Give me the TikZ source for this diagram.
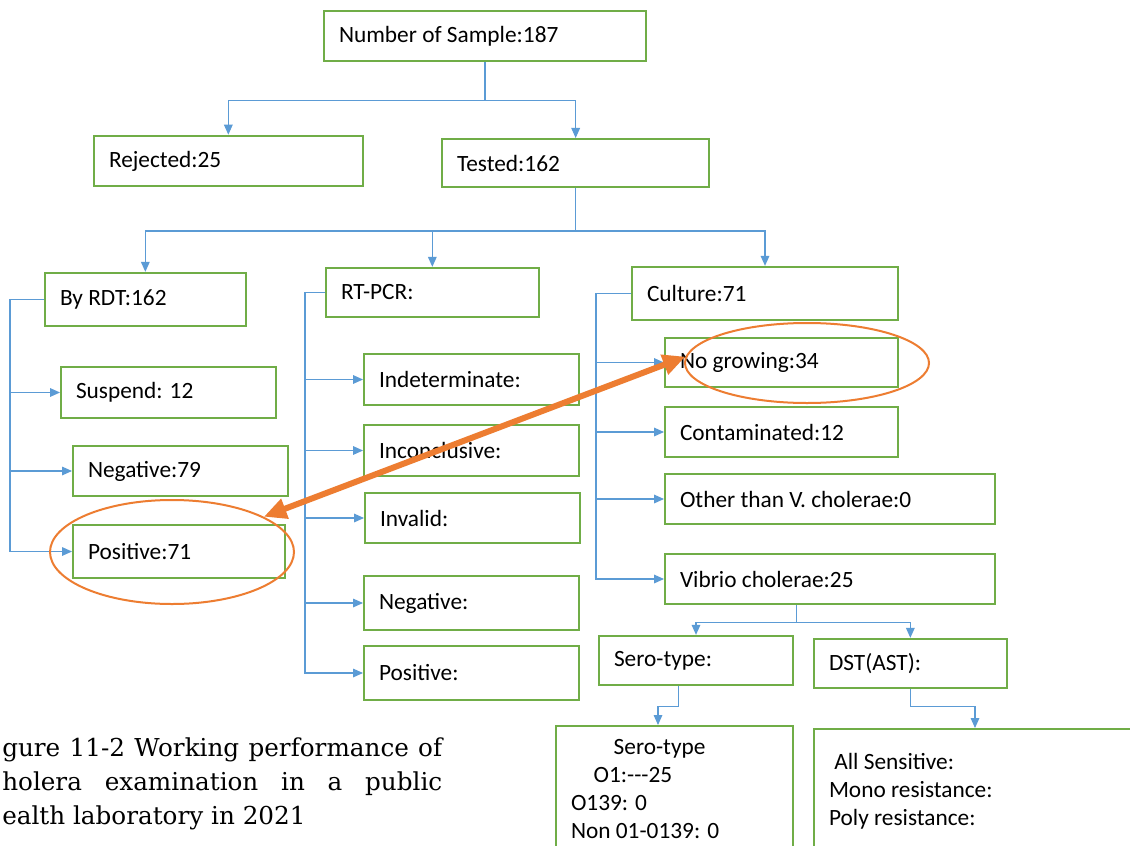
\documentclass[tikz,border=0pt]{standalone}
\usepackage{fontspec}
\newfontfamily\boxfont{Carlito}
\newfontfamily\capfont{DejaVu Serif}
\usetikzlibrary{arrows.meta,calc,shapes.geometric}
\definecolor{boxgreen}{HTML}{70AD47}
\definecolor{linkblue}{HTML}{5B9BD5}
\definecolor{markorange}{HTML}{ED7D31}
\tikzset{box/.style={draw=boxgreen,line width=1.5pt,fill=white,anchor=west,text width=#1,minimum height=38pt,inner xsep=11.25pt,align=flush left,font=\boxfont\fontsize{17.5}{21}\selectfont},
         line/.style={draw=linkblue,line width=0.8pt,-{Triangle[length=7.5pt,width=6.5pt]}},
         ring/.style={draw=markorange,line width=1.5pt,ellipse,inner sep=0pt}
}
\tikzstyle{hilite} = [draw=markorange,line width=4.5pt,{Triangle[length=17pt,width=15pt]}-{Triangle[length=17pt,width=15pt]}]

\begin{document}
\begin{tikzpicture}[x=0.75pt,y=-0.75pt]

\useasboundingbox (0,0) rectangle (1130,845);
\fill[white] (0,0) rectangle (1130,845);
\clip (0,0) rectangle (1130,845);

\node[box=219pt] (num) at (323,36) {Number of Sample:187};
\node[box=179pt] (rej) at (93,161) {Rejected:25};
\node[box=178pt,minimum height=36pt] (tst) at (441,163) {Tested:162};
\node[box=128pt,minimum height=40pt] (rdt) at (44,299.5) {By RDT:162};
\node[box=137pt,minimum height=37pt] (pcr) at (325,292.5) {RT-PCR:};
\node[box=177pt,minimum height=40pt] (cul) at (631,293.5) {Culture:71};
\node[box=139pt] (susp) at (60,392.5) {Suspend: 12};
\node[box=139pt] (rneg) at (72,471) {Negative:79};
\node[box=136.5pt,minimum height=40pt] (rpos) at (72,551.5) {Positive:71};
\node[box=139pt] (pind) at (363,379.5) {Indeterminate:};
\node[box=139pt] (pinc) at (363,450.5) {Inconclusive:};
\node[box=139pt] (pinv) at (364,518) {Invalid:};
\node[box=139pt,minimum height=40.5pt] (pneg) at (363,603) {Negative:};
\node[box=139pt,minimum height=40.5pt] (ppos) at (363,673) {Positive:};
\node[box=152pt,minimum height=37pt] (cnog) at (664,362.5) {No growing:34};
\node[box=152pt] (ccon) at (664,432) {Contaminated:12};
\node[box=225pt] (coth) at (664,499) {Other than V. cholerae:0};
\node[box=225pt] (cvib) at (664,579) {Vibrio cholerae:25};
\node[box=123pt,minimum height=37pt] (sero) at (598,660.5) {Sero-type:};
\node[box=122pt,minimum height=37pt] (dst) at (813,663.5) {DST(AST):};
\node[box=155pt,anchor=north west,inner ysep=10pt,text depth=80pt] (serod) at (555,725) {\hspace*{32pt}Sero-type\\\hspace*{17pt}O1:---25\\O139: 0\\Non 01-0139: 0};
\node[box=225pt,anchor=north west,inner ysep=18pt,text depth=80pt] (dstd) at (813,728) {\hspace*{4pt}All Sensitive:\\Mono resistance:\\Poly resistance:};

\coordinate (vibout) at ($(cvib.south west)!0.4!(cvib.south east)$);
\coordinate (serout) at ($(sero.south west)!0.41!(sero.south east)$);
\coordinate (serin) at ($(serod.north west)+(103,0)$);
\coordinate (dstin) at ($(dstd.north west)+(162,0)$);

\draw[line] (num.south) -- ++(0,38) -| (rej.north);
\draw[line] (num.south) -- ++(0,38) -| (tst.north);
\draw[line] (tst.south) -- ++(0,43) -| (rdt.north);
\draw[line] (tst.south) -- ++(0,43) -| (pcr.north);
\draw[line] (tst.south) -- ++(0,43) -| (cul.north);
\foreach \n in {susp,rneg,rpos} \draw[line] (rdt.west) -- ++(-34,0) |- (\n.west);
\foreach \n in {pind,pinc,pinv,pneg,ppos} \draw[line] (pcr.west) -- ++(-20,0) |- (\n.west);
\foreach \n in {cnog,ccon,coth,cvib} \draw[line] (cul.west) -- ++(-35,0) |- (\n.west);
\draw[line] (vibout) -- ++(0,17) -| (sero.north);
\draw[line] (vibout) -- ++(0,17) -| (dst.north);
\draw[line] (serout) -- ++(0,20) -| (serin);
\draw[line] (dst.south) -- ++(0,17) -| (dstin);

\node[anchor=north west,inner sep=0pt,text width=330pt,align=justify,font=\capfont\fontsize{18.5}{25.5}\selectfont] (cap) at (2,737) {gure 11-2 Working performance of\linebreak holera examination in a public\linebreak ealth laboratory in 2021};

\node[ring,minimum width=183pt,minimum height=78pt] (posring) at (172,552) {};
\node[ring,minimum width=183pt,minimum height=60pt] (nogring) at (807,363) {};
\draw[hilite] (posring.21) -- (nogring.177);

\end{tikzpicture}
\end{document}
